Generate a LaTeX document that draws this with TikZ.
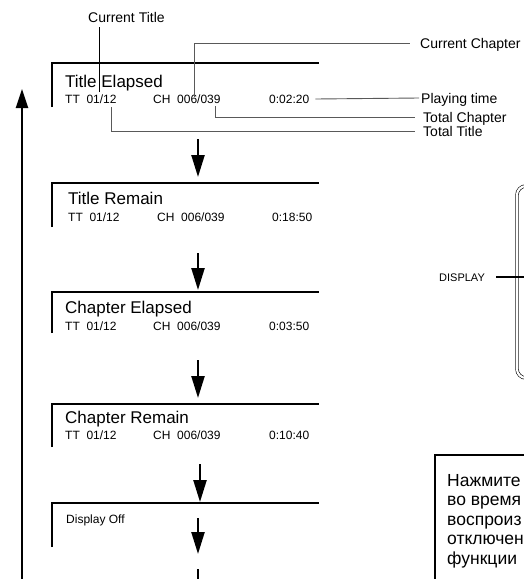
\documentclass[tikz,border=0pt]{standalone}
\usepackage{fontspec}
\setmainfont{Liberation Sans}
\usepackage{tikz}
\usetikzlibrary{arrows.meta}

\tikzset{
  panel/.style={line width=2.4pt},
  flow/.style={line width=2.3pt, -{Triangle[length=22pt,width=13pt]}},
  pointer/.style={line width=0.9pt, draw=black!65},
  lbl/.style={anchor=west, inner sep=0pt, text height=10pt, text depth=0pt, font=\fontsize{14}{16}\selectfont},
  mode/.style={anchor=west, inner sep=0pt, text height=12pt, text depth=0pt, font=\fontsize{17}{20}\selectfont},
  info/.style={anchor=west, inner sep=0pt, text height=8.6pt, text depth=0pt, font=\fontsize{12}{14}\selectfont},
  note/.style={anchor=base west, inner sep=0pt, font=\fontsize{17.5}{20}\selectfont},
}

\begin{document}
\begin{tikzpicture}[x=1pt, y=-1pt]
\useasboundingbox (0,0) rectangle (524,579);
\clip (0,0) rectangle (524,579);

% display panels
\foreach \ytop/\ybot in {63/107, 183/227, 292/333, 404/447, 503/547}
  \draw[panel] (52,\ybot) |- (319,\ytop);

% panel texts
\node[mode] (m1) at (65,81) {Title Elapsed};
\node[mode] (m2) at (68,198) {Title Remain};
\node[mode] (m3) at (65,307) {Chapter Elapsed};
\node[mode] (m4) at (65,417) {Chapter Remain};
\node[info] (m5) at (66,519) {Display Off};

\foreach \y/\tx/\cx/\clock [count=\i] in {99/65/153/0:02:20, 217/68/157/0:18:50, 326/65/153/0:03:50, 435/65/153/0:10:40} {
  \node[info] (tt\i) at (\tx,\y) {TT~~01/12};
  \node[info] (ch\i) at (\cx,\y) {CH~~006/039};
  \node[info] (time\i) at (\tx+204,\y) {\clock};
}

% mode cycle
\foreach \x/\a/\b [count=\i] in {198/139/177, 198/253/290, 198/360/398, 200/464/502, 198/518/554} {
  \coordinate (step\i a) at (\x,\a);
  \coordinate (step\i b) at (\x,\b);
  \draw[flow] (step\i a) -- (step\i b);
}
\coordinate (next a) at (198,569);
\coordinate (next b) at (198,579);
\draw[line width=2.3pt] (next a) -- (next b);

% back to the first mode
\coordinate (loop start) at (22,579);
\coordinate (loop end) at (22,89);
\draw[flow, -{Triangle[length=19pt,width=12pt]}] (loop start) -- (loop end);

% labels of the first panel
\node[lbl] (cur title) at (88,17) {Current Title};
\coordinate (cur title pt) at (99,92);
\draw[pointer, draw=black] (cur title pt) -- (cur title pt |- 0,27);

\node[lbl] (cur chap) at (420,43) {Current Chapter};
\coordinate (cur chap pt) at (194,97);
\draw[pointer] (cur chap pt) |- ([xshift=-10pt]cur chap.west);

\node[lbl] (play) at (421,98) {Playing time};
\draw[pointer] ([xshift=6pt]time1.east) -- ([xshift=-2pt]play.west);

\node[lbl] (tot chap) at (423,117) {Total Chapter};
\coordinate (tot chap pt) at (215,106);
\draw[pointer] (tot chap pt) |- ([xshift=-8pt]tot chap.west);

\node[lbl] (tot title) at (423,131) {Total Title};
\coordinate (tot title pt) at (111,107);
\draw[pointer] (tot title pt) |- ([xshift=-8pt]tot title.west);

% remote control
\draw[line width=0.6pt, double distance=2.2pt, rounded corners=9pt]
  (545,186) -- (517,186) -- (517,378) -- (545,378);
\node[anchor=west, inner sep=0pt, text height=8pt, text depth=0pt,
      font=\fontsize{11}{13}\selectfont] (display) at (439,277) {DISPLAY};
\coordinate (display key) at (524,277);
\draw[line width=2pt] ([xshift=11pt]display.east) -- (display key);

% note
\draw[line width=2pt] (560,455) -| (435,600);
\node[note] (n1) at (447,486) {Нажмите};
\node[note] (n2) at (447,505.5) {во время};
\node[note] (n3) at (447,525) {воспроиз};
\node[note] (n4) at (447,544.5) {отключен};
\node[note] (n5) at (447,564) {функции};

\end{tikzpicture}
\end{document}
